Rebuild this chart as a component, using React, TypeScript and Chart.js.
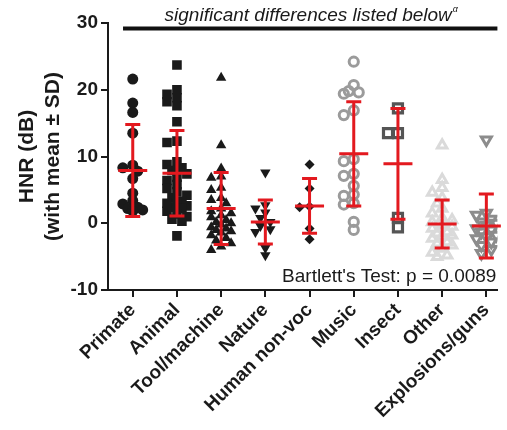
import React, { useEffect, useRef } from "react";
import { Chart, registerables } from "chart.js";
Chart.register(...registerables);

// ---------- data ----------
const categories = ["Primate", "Animal", "Tool/machine", "Nature", "Human non-voc", "Music", "Insect", "Other", "Explosions/guns"];

const primate = [21.6, 18.0, 16.6, 13.5, 8.7, 8.3, 7.8, 6.7, 4.5, 3.4, 2.9, 2.4, 2.2, 2.0, 1.8];
const animal = [23.7, 20.0, 19.3, 18.8, 18.2, 17.6, 15.2, 12.3, 12.1, 9.2, 8.8, 8.3, 7.9, 7.4, 6.9, 6.4, 5.8, 5.2, 4.7, 4.2, 3.8, 3.3, 2.9, 2.6, 2.2, 1.8, 1.4, 1.0, 0.6, 0.3, 2.4, 3.0, -1.9];
const toolMachine = [21.8, 11.7, 8.2, 7.0, 6.8, 5.3, 5.0, 3.8, 3.5, 3.0, 2.2, 1.8, 1.2, 0.9, 0.5, 0.2, -0.2, -0.6, -1.0, -1.4, -1.8, -2.2, -2.6, -3.0, -3.5, -4.0, 0.0, -0.8, 1.5, -1.2];
const nature = [7.6, 2.7, 2.2, 1.6, 0.8, 0.2, -0.4, -0.9, -1.3, -3.7, -4.8];
const humanNonVoc = [8.8, 5.2, 2.5, 2.4, -0.8, -2.4];
const music = [24.2, 20.7, 19.8, 19.6, 19.4, 16.9, 16.2, 9.6, 9.3, 7.4, 7.1, 5.6, 4.3, 4.1, 3.0, 2.8, 0.2, -1.0];
const insect = [17.2, 13.5, 13.5, 0.8, -0.6];
const other = [11.7, 6.5, 5.3, 4.6, 3.8, 3.0, 2.2, 1.5, 0.8, 0.2, -0.3, -0.8, -1.3, -1.8, -2.3, -2.8, -3.3, -3.8, -4.4, -5.0, -0.5, -1.5, 0.5, -2.0, -3.0, -4.8];
const explosions = [12.5, 1.5, 1.2, 0.6, 0.2, -0.3, -0.8, -1.3, -1.8, -2.3, -2.8, -3.3, -3.9, -4.5, -1.0, 0.0, -2.0];

const seriesValues = [primate, animal, toolMachine, nature, humanNonVoc, music, insect, other, explosions];

const means = [7.9, 7.5, 2.2, 0.2, 2.6, 10.4, 8.9, -0.1, -0.4];
const sds = [6.9, 6.4, 5.4, 3.3, 4.1, 7.8, 8.3, 3.6, 4.8];

const yTicks = [-10, 0, 10, 20, 30];

const topNote = "significant differences listed below";
const testNote = "Bartlett's Test: p = 0.0089";

// ---------- styles ----------
const RED = "#e3191f";
const INK = "#1a1a1a";
const FONT = "Arial, 'Liberation Sans', Helvetica, sans-serif";

const markerStyles = [
  { pointStyle: "circle", radius: 5.5, fill: INK, stroke: INK, bw: 0, rot: 0 },
  { pointStyle: "rect", radius: 6.8, fill: INK, stroke: INK, bw: 0, rot: 0 },
  { pointStyle: "triangle", radius: 6, fill: INK, stroke: INK, bw: 0, rot: 0 },
  { pointStyle: "triangle", radius: 6, fill: INK, stroke: INK, bw: 0, rot: 180 },
  { pointStyle: "rectRot", radius: 5, fill: INK, stroke: INK, bw: 0, rot: 0 },
  { pointStyle: "circle", radius: 4.6, fill: "rgba(255,255,255,0)", stroke: "#9b9b9b", bw: 3, rot: 0 },
  { pointStyle: "rect", radius: 6.4, fill: "rgba(255,255,255,0)", stroke: "#555555", bw: 3.2, rot: 0 },
  { pointStyle: "triangle", radius: 5.5, fill: "rgba(255,255,255,0)", stroke: "#dadada", bw: 3, rot: 0 },
  { pointStyle: "triangle", radius: 5.8, fill: "rgba(255,255,255,0)", stroke: "#8c8c8c", bw: 3, rot: 180 },
];

// compact beeswarm-like horizontal spreading (pixel based), returns offsets in x units
function swarmOffsets(values: number[], pxPerY: number, pxPerX: number): number[] {
  const order = values.map((v, i) => i).sort((a, b) => values[b] - values[a]);
  const placed: { ox: number; v: number }[] = [];
  const out = new Array(values.length).fill(0);
  const step = 5;
  const maxOff = 11;
  const minD = 7;
  for (const idx of order) {
    const v = values[idx];
    const cands: number[] = [0];
    for (let m = step; m <= maxOff; m += step) cands.push(-m, m);
    let best = 0;
    let bestScore = -1;
    for (const cand of cands) {
      let dmin = Infinity;
      for (const p of placed) {
        const dx = cand - p.ox;
        const dy = (v - p.v) * pxPerY;
        dmin = Math.min(dmin, Math.sqrt(dx * dx + dy * dy));
      }
      if (dmin >= minD) { best = cand; bestScore = Infinity; break; }
      if (dmin > bestScore) { bestScore = dmin; best = cand; }
    }
    placed.push({ ox: best, v });
    out[idx] = best / pxPerX;
  }
  return out;
}

const annotPlugin = {
  id: "annot",
  afterDatasetsDraw(chart: any) {
    const { ctx, scales, chartArea } = chart;
    const x = scales.x;
    const y = scales.y;
    ctx.save();
    // error bars
    ctx.strokeStyle = RED;
    ctx.lineWidth = 3;
    ctx.lineCap = "butt";
    means.forEach((m, i) => {
      const cx = x.getPixelForValue(i + 1);
      const ym = y.getPixelForValue(m);
      const yt = y.getPixelForValue(m + sds[i]);
      const yb = y.getPixelForValue(m - sds[i]);
      ctx.beginPath();
      ctx.moveTo(cx, yt);
      ctx.lineTo(cx, yb);
      ctx.moveTo(cx - 14.5, ym);
      ctx.lineTo(cx + 14.5, ym);
      ctx.moveTo(cx - 7.5, yt);
      ctx.lineTo(cx + 7.5, yt);
      ctx.moveTo(cx - 7.5, yb);
      ctx.lineTo(cx + 7.5, yb);
      ctx.stroke();
    });
    // top bracket line
    const lx0 = x.getPixelForValue(0.78);
    const lx1 = chartArea.right;
    const ly = chartArea.top + 5.5;
    ctx.strokeStyle = "#111";
    ctx.lineWidth = 4;
    ctx.beginPath();
    ctx.moveTo(lx0, ly);
    ctx.lineTo(lx1, ly);
    ctx.stroke();
    ctx.fillStyle = INK;
    ctx.font = `italic 19px ${FONT}`;
    ctx.textAlign = "center";
    ctx.textBaseline = "alphabetic";
    const cxText = (lx0 + lx1) / 2 - 2;
    ctx.fillText(topNote, cxText, 21);
    const w = ctx.measureText(topNote).width;
    ctx.font = `italic 9px ${FONT}`;
    ctx.textAlign = "left";
    ctx.fillText("\u03b1", cxText + w / 2 + 1, 12);
    // Bartlett
    ctx.font = `19px ${FONT}`;
    ctx.textAlign = "right";
    ctx.fillText(testNote, chartArea.right - 1, chartArea.bottom - 8);
    ctx.restore();
  },
};

export default function App() {
  const ref = useRef<HTMLCanvasElement | null>(null);
  useEffect(() => {
    if (!ref.current) return;
    const pxPerY = 200 / 30;
    const pxPerX = 44.5;
    const datasets = seriesValues.map((vals, i) => {
      const offs = swarmOffsets(vals, pxPerY, pxPerX);
      const st = markerStyles[i];
      return {
        label: categories[i],
        data: vals.map((v, j) => ({ x: i + 1 + offs[j], y: v })),
        pointStyle: st.pointStyle,
        pointRadius: st.radius,
        pointBackgroundColor: st.fill,
        pointBorderColor: st.stroke,
        pointBorderWidth: st.bw,
        pointRotation: st.rot,
        showLine: false,
      };
    });
    const chart = new Chart(ref.current, {
      type: "scatter",
      data: { datasets: datasets as any },
      plugins: [annotPlugin],
      options: {
        animation: false,
        responsive: true,
        maintainAspectRatio: false,
        layout: { padding: { top: 23, right: 7, left: 0, bottom: 0 } },
        plugins: { legend: { display: false }, tooltip: { enabled: false } },
        scales: {
          x: {
            type: "linear",
            min: 0.44,
            max: 9.25,
            afterBuildTicks: (scale: any) => {
              scale.ticks = categories.map((_, i) => ({ value: i + 1 }));
            },
            afterFit: (scale: any) => {
              scale.height = 140;
            },
            ticks: {
              autoSkip: false,
              maxRotation: 45,
              minRotation: 45,
              padding: 2,
              color: INK,
              font: { family: FONT, size: 19, weight: "bold" },
              callback: (v: any) => categories[Math.round(Number(v)) - 1] ?? "",
            },
            grid: { display: true, drawOnChartArea: false, drawTicks: true, tickLength: 7, color: INK, lineWidth: 2 },
            border: { display: true, color: INK, width: 2 },
          },
          y: {
            type: "linear",
            min: -10,
            max: 30,
            afterBuildTicks: (scale: any) => {
              scale.ticks = yTicks.map((v) => ({ value: v }));
            },
            afterFit: (scale: any) => {
              scale.width = 108;
            },
            ticks: {
              color: INK,
              padding: 3,
              font: { family: FONT, size: 19, weight: "bold" },
            },
            grid: { display: true, drawOnChartArea: false, drawTicks: true, tickLength: 7, color: INK, lineWidth: 2 },
            border: { display: true, color: INK, width: 2 },
            title: {
              display: true,
              text: ["HNR (dB)", "(with mean \u00b1 SD)"],
              color: INK,
              font: { family: FONT, size: 21, weight: "bold" },
              padding: { top: 15, bottom: 0 },
            },
          },
        },
      },
    });
    return () => chart.destroy();
  }, []);
  return (
    <div style={{ position: "absolute", left: 0, top: 0, width: 507, height: 430, background: "#fff" }}>
      <canvas ref={ref} style={{ display: "block" }} />
    </div>
  );
}
